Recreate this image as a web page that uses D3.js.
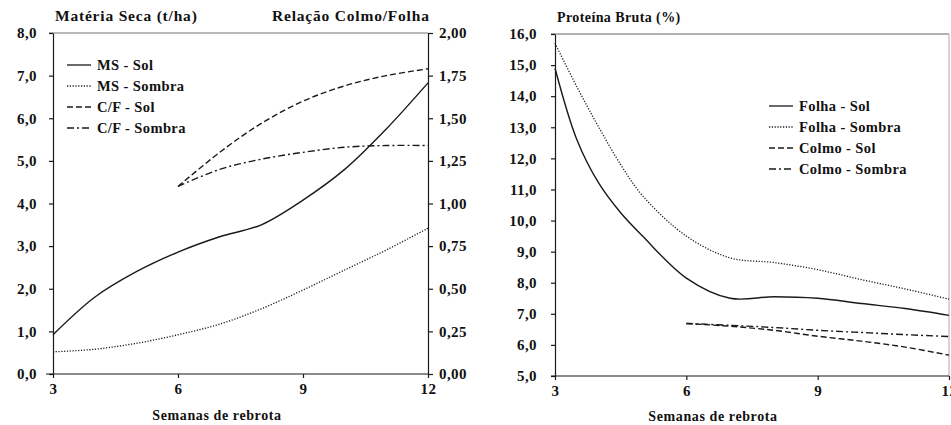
<!DOCTYPE html>
<html>
<head>
<meta charset="utf-8">
<script src="https://cdn.jsdelivr.net/npm/d3@7"></script>
<style>
  body { margin: 0; background: #fff; }
  svg text { font-family: "Liberation Serif", "DejaVu Serif", serif; font-weight: bold; fill: #111; }
</style>
</head>
<body>
<svg id="chart" width="951" height="425"></svg>
<script>
// weeks of regrowth
const weeks = [3, 4, 5, 6, 7, 8, 9, 10, 11, 12];
const weeksLate = [6, 7, 8, 9, 10, 11, 12];
const weeksFine = [3, 3.5, 4, 4.5, 5, 6, 7, 8, 9, 10, 11, 12];
const xTicks = [3, 6, 9, 12];

// left panel: dry matter (t/ha) and stem/leaf ratio
const msSol = [0.92, 1.8, 2.4, 2.86, 3.22, 3.5, 4.08, 4.8, 5.75, 6.83];
const msSombra = [0.52, 0.58, 0.72, 0.92, 1.17, 1.53, 1.97, 2.44, 2.91, 3.42];
const cfSol = [1.1, 1.3, 1.47, 1.6, 1.69, 1.75, 1.79];
const cfSombra = [1.1, 1.2, 1.26, 1.3, 1.33, 1.34, 1.34];
const msTicks = [0, 1, 2, 3, 4, 5, 6, 7, 8];
const cfTicks = [0, 0.25, 0.5, 0.75, 1, 1.25, 1.5, 1.75, 2];

// right panel: crude protein (%)
const folhaSol = [14.9, 12.6, 11.2, 10.25, 9.5, 8.15, 7.5, 7.55, 7.5, 7.33, 7.17, 6.95];
const folhaSombra = [15.7, 14.3, 13.0, 11.8, 10.8, 9.5, 8.8, 8.65, 8.42, 8.1, 7.8, 7.47];
const colmoSol = [6.69, 6.6, 6.47, 6.28, 6.12, 5.93, 5.67];
const colmoSombra = [6.69, 6.63, 6.56, 6.47, 6.4, 6.33, 6.27];
const pbTicks = [5, 6, 7, 8, 9, 10, 11, 12, 13, 14, 15, 16];

const svg = d3.select('#chart');
const ink = '#1a1a1a';
const comma = (f) => (d) => d3.format(f)(d).replace('.', ',');

const dash = {
  solid: null,
  dotted: '1.2,1.6',
  dashed: '6,3',
  dashdot: '7,3,2,3'
};

function styleAxis(g) {
  g.select('.domain').attr('stroke', ink).attr('stroke-width', 1.2);
  g.selectAll('.tick line').attr('stroke', ink).attr('stroke-width', 1.2);
  g.selectAll('.tick text').attr('font-size', 15).attr('letter-spacing', 0.4).attr('fill', ink);
}

function drawLine(g, xs, ys, x, y, style) {
  const line = d3.line()
    .x((d, i) => x(xs[i]))
    .y((d) => y(d))
    .curve(d3.curveCatmullRom.alpha(0.5));
  g.append('path')
    .datum(ys)
    .attr('d', line)
    .attr('fill', 'none')
    .attr('stroke', ink)
    .attr('stroke-width', style === 'dotted' ? 1.3 : 1.4)
    .attr('stroke-dasharray', dash[style]);
}

function drawLegend(g, items, x0, y0, step) {
  items.forEach((it, i) => {
    const yy = y0 + i * step;
    g.append('line')
      .attr('x1', x0).attr('x2', x0 + 24)
      .attr('y1', yy).attr('y2', yy)
      .attr('stroke', ink).attr('stroke-width', 1.3)
      .attr('stroke-dasharray', dash[it.style]);
    g.append('text')
      .attr('x', x0 + 30).attr('y', yy + 5)
      .attr('font-size', 14.5)
      .attr('letter-spacing', 0.4)
      .text(it.label);
  });
}

// ---- left panel ----
const xL = d3.scaleLinear().domain([3, 12]).range([53, 428]);
const yMS = d3.scaleLinear().domain([0, 8]).range([374, 33]);
const yCF = d3.scaleLinear().domain([0, 2]).range([374, 33]);

const left = svg.append('g');

// top frame line
left.append('line')
  .attr('x1', 49).attr('x2', 428).attr('y1', 33).attr('y2', 33)
  .attr('stroke', '#777').attr('stroke-width', 1.2);

left.append('g')
  .attr('transform', 'translate(53,0)')
  .call(d3.axisLeft(yMS).tickValues(msTicks).tickFormat(comma('.1f')).tickSize(4).tickPadding(12).tickSizeOuter(0))
  .call(styleAxis);

left.append('g')
  .attr('transform', 'translate(428,0)')
  .call(d3.axisRight(yCF).tickValues(cfTicks).tickFormat(comma('.2f')).tickSize(5).tickPadding(6).tickSizeOuter(0))
  .call(styleAxis);

left.append('g')
  .attr('transform', 'translate(0,374)')
  .call(d3.axisBottom(xL).tickValues(xTicks).tickFormat(d3.format('d')).tickSize(4).tickPadding(5).tickSizeOuter(0))
  .call(styleAxis)
  .call((g) => g.select('.domain').attr('d', 'M46,0H428'));

drawLine(left, weeks, msSol, xL, yMS, 'solid');
drawLine(left, weeks, msSombra, xL, yMS, 'dotted');
drawLine(left, weeksLate, cfSol, xL, yCF, 'dashed');
drawLine(left, weeksLate, cfSombra, xL, yCF, 'dashdot');

drawLegend(left, [
  { label: 'MS - Sol', style: 'solid' },
  { label: 'MS - Sombra', style: 'dotted' },
  { label: 'C/F - Sol', style: 'dashed' },
  { label: 'C/F - Sombra', style: 'dashdot' }
], 67, 65, 21);

left.append('text').attr('x', 55).attr('y', 21).attr('font-size', 15.5).attr('letter-spacing', 0.8).text('Matéria Seca (t/ha)');
left.append('text').attr('x', 272).attr('y', 21).attr('font-size', 15.5).attr('letter-spacing', 0.8).text('Relação Colmo/Folha');
left.append('text').attr('x', 217).attr('y', 420).attr('text-anchor', 'middle').attr('font-size', 14).attr('letter-spacing', 0.6).text('Semanas de rebrota');

// ---- right panel ----
const xR = d3.scaleLinear().domain([3, 12]).range([555, 949]);
const yPB = d3.scaleLinear().domain([5, 16]).range([376, 34]);

const right = svg.append('g');

right.append('line')
  .attr('x1', 551).attr('x2', 949).attr('y1', 34).attr('y2', 34)
  .attr('stroke', '#666').attr('stroke-width', 1.2);
right.append('line')
  .attr('x1', 949).attr('x2', 949).attr('y1', 34).attr('y2', 376)
  .attr('stroke', '#aaa').attr('stroke-width', 1);

right.append('g')
  .attr('transform', 'translate(555,0)')
  .call(d3.axisLeft(yPB).tickValues(pbTicks).tickFormat(comma('.1f')).tickSize(4).tickPadding(14).tickSizeOuter(0))
  .call(styleAxis);

right.append('g')
  .attr('transform', 'translate(0,376)')
  .call(d3.axisBottom(xR).tickValues(xTicks).tickFormat(d3.format('d')).tickSize(4).tickPadding(5).tickSizeOuter(0))
  .call(styleAxis)
  .call((g) => g.select('.domain').attr('d', 'M551,0H949'));

drawLine(right, weeksFine, folhaSol, xR, yPB, 'solid');
drawLine(right, weeksFine, folhaSombra, xR, yPB, 'dotted');
drawLine(right, weeksLate, colmoSol, xR, yPB, 'dashed');
drawLine(right, weeksLate, colmoSombra, xR, yPB, 'dashdot');

drawLegend(right, [
  { label: 'Folha - Sol', style: 'solid' },
  { label: 'Folha - Sombra', style: 'dotted' },
  { label: 'Colmo - Sol', style: 'dashed' },
  { label: 'Colmo - Sombra', style: 'dashdot' }
], 769, 106, 21);

right.append('text').attr('x', 557).attr('y', 22).attr('font-size', 14).attr('letter-spacing', 0.4).text('Proteína Bruta (%)');
right.append('text').attr('x', 713).attr('y', 421).attr('text-anchor', 'middle').attr('font-size', 14).attr('letter-spacing', 0.6).text('Semanas de rebrota');
</script>
</body>
</html>
